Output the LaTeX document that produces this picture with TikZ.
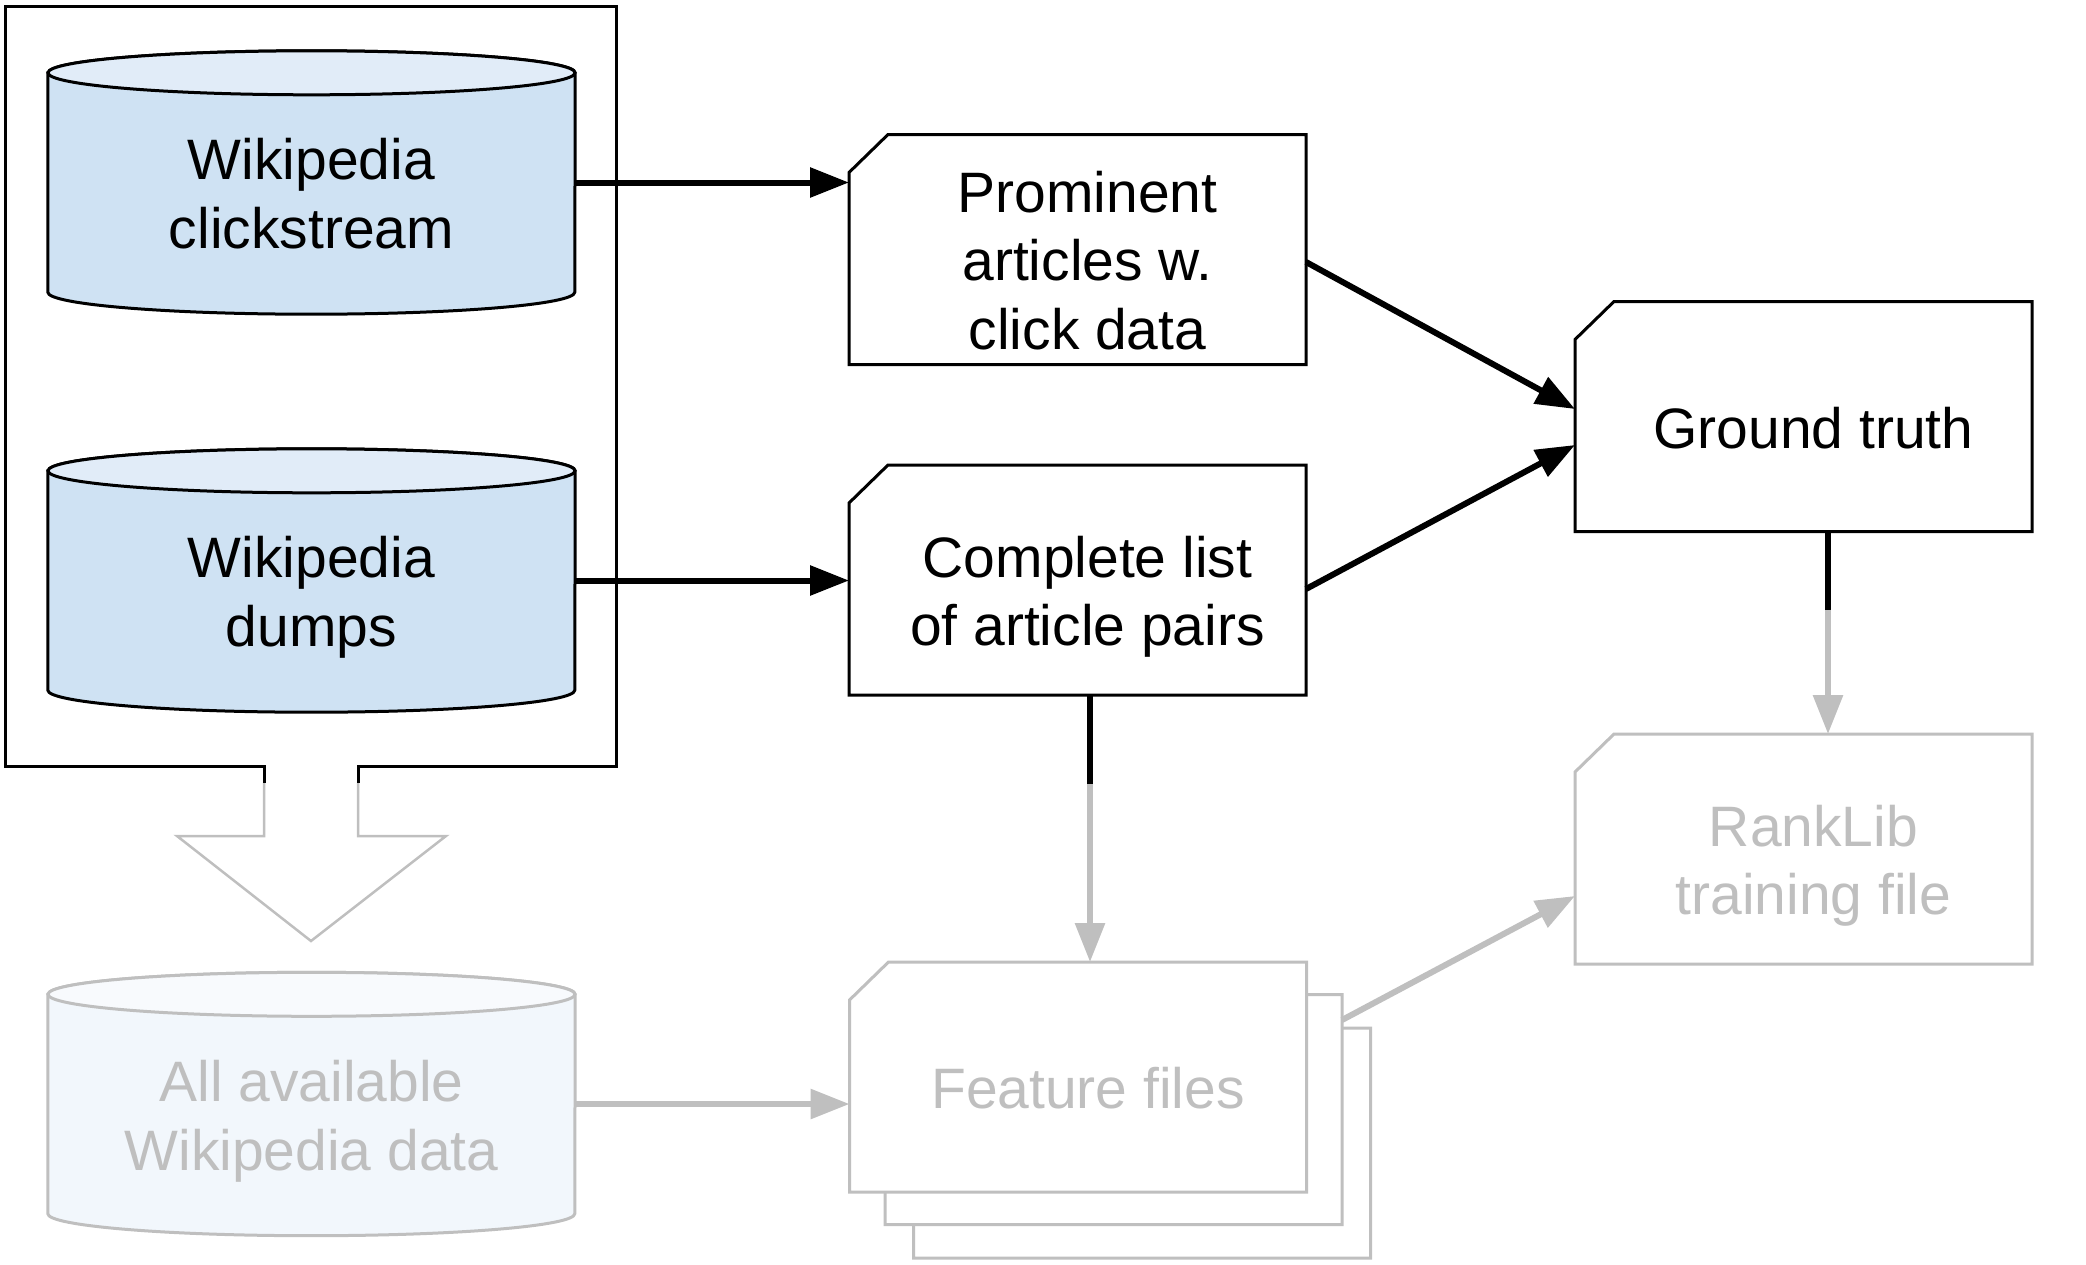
\documentclass[tikz,border=0pt]{standalone}
\usepackage{fontspec}
\setmainfont{Liberation Sans}
\usetikzlibrary{shapes,arrows.meta}

\definecolor{dbblue}{HTML}{CFE2F3}
\definecolor{dbbluetop}{HTML}{E1ECF8}
\definecolor{dbpale}{HTML}{F2F7FC}
\definecolor{dbpaletop}{HTML}{F8FAFD}
\definecolor{faded}{HTML}{BFBFBF}

% cylinder drawn round an empty node: name, body style, top style
\newcommand{\dbcan}[3]{%
  \draw[#2] ([yshift=-22pt]#1.north west) -- ([yshift=22pt]#1.south west)
    arc[start angle=180, end angle=360, x radius=263.5pt, y radius=22pt]
    -- ([yshift=-22pt]#1.north east)
    arc[start angle=0, end angle=180, x radius=263.5pt, y radius=22pt] -- cycle;
  \draw[#3] ([yshift=-22pt]#1.north) ellipse[x radius=263.5pt, y radius=22pt];
}

% file outline with the cut corner: name, style
\newcommand{\docbox}[2]{%
  \draw[#2] ([yshift=-38pt]#1.north west) -- (#1.south west) -- (#1.south east)
    -- (#1.north east) -- ([xshift=39pt]#1.north west) -- cycle;
}

\tikzset{
  db/.style={minimum width=527pt, minimum height=263pt, inner sep=0pt},
  doc/.style={minimum width=457pt, minimum height=230pt, inner sep=0pt, outer sep=0pt},
  docline/.style={line width=3pt, fill=white, line join=miter},
  doclineoff/.style={docline, draw=faded},
  txt/.style={font=\fontsize{57}{68.5}\selectfont, align=center, inner sep=0pt},
  txtoff/.style={txt, text=faded},
  link/.style={line width=6pt},
  linkoff/.style={link, draw=faded},
  arr/.style={-{Triangle[length=39pt,width=29pt]}},
}

\begin{document}
\begin{tikzpicture}[x=1pt,y=1pt]
  \useasboundingbox (0,0) rectangle (2086,-1264);

  % group box with the hollow arrow below it
  \draw[line width=3pt] (264,-783) -- (264,-766) -- (5,-766) -- (5,-6)
    -- (616,-6) -- (616,-766) -- (358,-766) -- (358,-783);
  \draw[line width=2.5pt, draw=faded, line join=miter] (264,-783) -- (264,-836)
    -- (177,-836) -- (311,-941) -- (446,-836) -- (358,-836) -- (358,-783);

  % data sources
  \node[db] (click) at (311.5,-182.5) {};
  \node[db] (dump) at (311.5,-580.5) {};
  \node[db] (all) at (311.5,-1104) {};
  \dbcan{click}{line width=3pt, fill=dbblue}{line width=3pt, fill=dbbluetop}
  \dbcan{dump}{line width=3pt, fill=dbblue}{line width=3pt, fill=dbbluetop}
  \dbcan{all}{line width=3pt, draw=faded, fill=dbpale}{line width=3pt, draw=faded, fill=dbpaletop}
  \node[txt] (clicktxt) at ([yshift=-11pt]click) {Wikipedia\\clickstream};
  \node[txt] (dumptxt) at ([yshift=-17pt]dump) {Wikipedia\\dumps};
  \node[txtoff] (alltxt) at ([yshift=-17pt]all) {All available\\Wikipedia data};

  % files
  \node[doc] (prom) at (1077.5,-249.5) {};
  \node[doc] (cpl) at (1077.5,-580) {};
  \node[doc] (gt) at (1803.5,-416.5) {};
  \node[doc] (rank) at (1803.5,-849) {};
  \node[doc] (feat3) at (1142,-1143) {};
  \node[doc] (feat2) at (1113.5,-1109.5) {};
  \node[doc] (feat) at (1078,-1077) {};
  \docbox{prom}{docline}
  \docbox{cpl}{docline}
  \docbox{gt}{docline}
  \docbox{rank}{doclineoff}
  \docbox{feat3}{doclineoff}
  \docbox{feat2}{doclineoff}
  \docbox{feat}{doclineoff}
  \node[txt] (promtxt) at ([xshift=10pt,yshift=-11pt]prom) {Prominent\\articles w.\\click data};
  \node[txt] (cpltxt) at ([xshift=10pt,yshift=-17pt]cpl) {Complete list\\of article pairs};
  \node[txt] (gttxt) at ([xshift=10pt,yshift=-11.5pt]gt) {Ground truth};
  \node[txtoff] (ranktxt) at ([xshift=10pt,yshift=-17pt]rank) {RankLib\\training file};
  \node[txtoff] (feattxt) at ([xshift=10pt,yshift=-11pt]feat) {Feature files};

  % connectors
  \draw[link,arr] (click.east) -- (click.east -| prom.west);
  \draw[link,arr] (dump.east) -- (dump.east -| cpl.west);
  \draw[link,arr] ([yshift=-12.5pt]prom.east) -- ([yshift=7.5pt]gt.west);
  \draw[link,arr] ([yshift=-9pt]cpl.east) -- ([yshift=-28.5pt]gt.west);

  \coordinate (cplcut) at ([xshift=12.5pt,yshift=-89pt]cpl.south);
  \draw[link] ([xshift=12.5pt]cpl.south) -- (cplcut);
  \draw[linkoff,arr] (cplcut) -- (cplcut |- feat.north);

  \coordinate (gtcut) at ([xshift=24.5pt,yshift=-78pt]gt.south);
  \draw[link] ([xshift=24.5pt]gt.south) -- (gtcut);
  \draw[linkoff,arr] (gtcut) -- (gtcut |- rank.north);

  \draw[linkoff,arr] (all.east) -- (all.east -| feat.west);
  \draw[linkoff,arr] ([yshift=89.5pt]feat2.east) -- ([yshift=-47pt]rank.west);
\end{tikzpicture}
\end{document}
